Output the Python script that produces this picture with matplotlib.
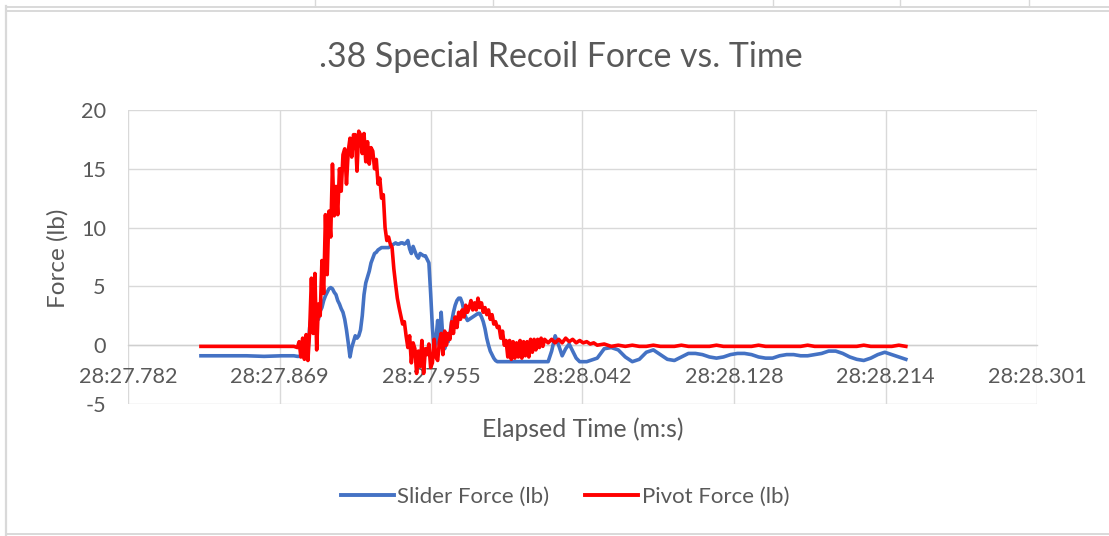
import matplotlib
matplotlib.use("Agg")
import matplotlib.pyplot as plt
from matplotlib.lines import Line2D
from matplotlib.ticker import FixedLocator, FuncFormatter

plt.rcParams['font.family'] = ['Lato', 'DejaVu Sans']

# ---------------- data (time in ms after 28:27.000) ----------------
time_pre = [824, 830, 840, 850, 860, 870, 875, 877, 879]
slider_pre = [-0.9, -0.9, -0.9, -0.9, -0.95, -0.9, -0.9, -0.9, -0.95]
pivot_pre = [-0.1, -0.1, -0.1, -0.1, -0.1, -0.1, -0.1, -0.1, -0.2]

time_event = [
    880, 881, 882, 883, 884, 885, 886, 887, 888, 889,
    890, 891, 892, 893, 894, 895, 896, 897, 898, 899,
    900, 901, 902, 903, 904, 905, 906, 907, 908, 909,
    910, 911, 912, 913, 914, 915, 916, 917, 918, 919,
    920, 921, 922, 923, 924, 925, 926, 927, 928, 929,
    930, 931, 932, 933, 934, 935, 936, 937, 938, 939,
    940, 941, 942, 943, 944, 945, 946, 947, 948, 949,
    950, 951, 952, 953, 954, 955, 956, 957, 958, 959,
    960, 961, 962, 963, 964, 965, 966, 967, 968, 969,
    970, 971, 972, 973, 974, 975, 976, 977, 978, 979,
    980, 981, 982, 983, 984, 985, 986, 987, 988, 989,
    990, 991, 992, 993, 994, 995, 996, 997, 998, 999,
    1000, 1001, 1002, 1003, 1004, 1005, 1006, 1007, 1008, 1009,
    1010, 1011, 1012, 1013, 1014, 1015, 1016, 1017, 1018, 1019,
    1020]
pivot_event = [
    0.3, -1.0, 0.6, -1.2, 0.9, -1.3, 1.2, 5.7, 1.0, 6.1,
    -0.4, 3.5, 2.5, 7.2, 4.4, 11.1, 6.0, 11.4, 9.2, 15.4,
    11.0, 13.5, 11.1, 15.0, 13.1, 16.2, 16.7, 13.7, 16.5, 17.6,
    16.0, 17.9, 17.9, 14.8, 18.2, 17.9, 16.3, 18.0, 15.6, 17.3,
    15.4, 16.8, 16.5, 15.0, 15.8, 13.7, 14.2, 12.5, 12.8, 10.0,
    8.9, 9.2, 8.6, 8.3, 6.5, 5.2, 4.0, 3.2, 2.5, 1.8,
    2.0, 0.8, -0.2, 0.8, -1.5, 0.2, -0.3, -2.4, -0.5, -1.8,
    0.4, -2.4, -0.3, -0.8, 0.1, -1.9, -1.5, 0.5, -1.0, -1.3,
    0.3, 1.0, -0.8, 1.2, 0.0, 1.0, 0.5, 2.0, 1.0, 2.4,
    1.5, 2.8, 2.2, 3.0, 2.4, 3.4, 2.8, 3.2, 3.8, 3.0,
    3.6, 3.0, 4.0, 3.2, 3.6, 2.8, 3.2, 2.6, 3.0, 2.2,
    2.6, 1.8, 2.0, 1.5, 1.6, 0.6, 1.2, 0.0, 0.4, -1.0,
    0.4, -1.2, 0.3, -1.1, 0.2, -1.0, 0.4, -1.1, 0.3, -0.9,
    0.3, -1.0, 0.5, -0.6, 0.5, -0.4, 0.5, -0.2, 0.6, -0.1,
    0.5]
slider_event = [
    -0.95, -0.95, -0.9, -0.9, -0.9, -0.5, 1.5, 2.6, 2.2, 2.0,
    2.3, 2.2, 2.9, 3.2, 3.8, 4.2, 4.5, 4.8, 4.9, 4.8,
    4.5, 4.3, 3.8, 3.5, 3.1, 2.8, 2.2, 1.3, 0.2, -1.0,
    -0.2, 0.3, 0.8, 0.6, 0.8, 1.3, 2.5, 4.3, 5.3, 5.8,
    6.3, 7.0, 7.4, 7.8, 7.9, 8.1, 8.2, 8.3, 8.3, 8.3,
    8.3, 8.3, 8.4, 8.5, 8.6, 8.7, 8.6, 8.6, 8.7, 8.7,
    8.6, 8.7, 8.9, 8.2, 7.8, 8.4, 8.0, 7.6, 7.4, 7.8,
    7.7, 7.6, 7.6, 7.3, 7.0, 4.4, 1.5, -0.5, 0.5, 2.1,
    0.0, 2.8, 0.5, -0.3, 0.5, 0.3, 1.0, 2.0, 2.8, 3.4,
    3.8, 4.0, 4.0, 3.6, 2.9, 2.4, 2.1, 2.2, 2.3, 2.4,
    2.5, 2.6, 2.7, 2.7, 2.4, 2.0, 1.4, 0.6, 0.0, -0.5,
    -0.8, -1.1, -1.3, -1.4, -1.4, -1.4, -1.4, -1.4, -1.4, -1.4,
    -1.4, -1.4, -1.4, -1.4, -1.4, -1.4, -1.4, -1.4, -1.4, -1.4,
    -1.4, -1.4, -1.4, -1.4, -1.4, -1.4, -1.4, -1.4, -1.4, -1.4,
    -1.4]

time_mid = [1022, 1024, 1026, 1028, 1030, 1032, 1034, 1036, 1038, 1040,
            1042, 1044, 1046, 1048, 1050]
pivot_mid = [0.2, 0.5, 0.2, 0.5, 0.2, 0.6, 0.3, 0.5, 0.2, 0.4,
             0.2, 0.3, 0.1, 0.2, 0.0]
slider_mid = [-1.4, -0.5, 0.8, 0.0, -0.9, -0.3, 0.1, -0.5, -1.1, -1.4,
              -1.4, -1.4, -1.3, -1.2, -1.1]

time_tail = [
    1054, 1058, 1062, 1066, 1070, 1074, 1078, 1082, 1086, 1090, 1094,
    1098, 1102, 1106, 1110, 1114, 1118, 1122, 1126, 1130, 1134, 1138,
    1142, 1146, 1150, 1154, 1158, 1162, 1166, 1170, 1174, 1178, 1182,
    1186, 1190, 1194, 1198, 1202, 1206, 1210, 1214, 1218, 1222, 1226]
pivot_tail = [
    0.1, -0.1, 0.0, -0.1, 0.0, -0.1, -0.1, 0.0, -0.1, -0.1, -0.1,
    0.0, -0.1, -0.1, -0.1, -0.1, 0.0, -0.1, -0.1, -0.1, -0.1, -0.1,
    0.0, -0.1, -0.1, -0.1, -0.1, -0.1, -0.1, 0.0, -0.1, -0.1, -0.1,
    -0.1, -0.1, -0.1, -0.1, 0.0, -0.1, -0.1, -0.1, -0.1, 0.0, -0.1]
slider_tail = [
    -0.3, -0.2, -0.4, -1.0, -1.4, -1.2, -0.6, -0.4, -0.8, -1.2, -1.3,
    -1.0, -0.7, -0.7, -0.8, -1.0, -1.1, -1.0, -0.8, -0.7, -0.7, -0.8,
    -1.0, -1.1, -1.1, -0.9, -0.8, -0.8, -0.9, -0.9, -0.8, -0.7, -0.5,
    -0.5, -0.7, -1.0, -1.2, -1.3, -1.1, -0.8, -0.6, -0.8, -1.0, -1.2]

time_ms = time_pre + time_event + time_mid + time_tail
slider_force = slider_pre + slider_event + slider_mid + slider_tail
pivot_force = pivot_pre + pivot_event + pivot_mid + pivot_tail

# axis ticks (ms after 28:27.000)
x_ticks = [782.4, 868.8, 955.2, 1041.6, 1128.0, 1214.4, 1300.8]
y_ticks = [-5, 0, 5, 10, 15, 20]

series_names = ["Slider Force (lb)", "Pivot Force (lb)"]
title_text = ".38 Special Recoil Force vs. Time"
x_title = "Elapsed Time (m:s)"
y_title = "Force (lb)"

# ---------------- figure ----------------
W, H = 1109, 536
fig = plt.figure(figsize=(W / 100, H / 100), dpi=100)
fig.patch.set_facecolor("white")

ax = fig.add_axes([128 / W, 1 - 404 / H, (1037 - 128) / W, (404 - 110) / H])
ax.set_facecolor("white")

text_col = "#595959"
grid_col = "#d9d9d9"

ax.plot(time_ms, slider_force, color="#4472C4", lw=2.6, solid_joinstyle="round",
        label=series_names[0], zorder=3)
ax.plot(time_ms, pivot_force, color="#FF0000", lw=2.6, solid_joinstyle="round",
        label=series_names[1], zorder=4)

ax.set_xlim(x_ticks[0], x_ticks[-1])
ax.set_ylim(-5, 20)
ax.xaxis.set_major_locator(FixedLocator(x_ticks))
ax.yaxis.set_major_locator(FixedLocator(y_ticks))


def fmt_time(v, pos=None):
    sec = 27 + v / 1000.0
    return "28:%06.3f" % sec


ax.xaxis.set_major_formatter(FuncFormatter(fmt_time))
ax.yaxis.set_major_formatter(FuncFormatter(lambda v, p: "%d" % v))

ax.grid(True, color=grid_col, lw=1.0, zorder=0)
ax.set_axisbelow(True)
for s in ["left", "right", "top"]:
    ax.spines[s].set_visible(False)
ax.spines["bottom"].set_position(("data", 0))
ax.spines["bottom"].set_color("#cfcfcf")
ax.spines["bottom"].set_linewidth(1.0)

ax.tick_params(axis="both", length=0, colors=text_col, labelsize=15.6)
ax.tick_params(axis="x", pad=16)
ax.tick_params(axis="y", pad=16)

fig.text(561 / W, 1 - 57 / H, title_text, ha="center", va="center",
         fontsize=24.4, color=text_col)
fig.text(582.5 / W, 1 - 429 / H, x_title, ha="center", va="center",
         fontsize=17.8, color=text_col)
fig.text(58 / W, 1 - 258 / H, y_title, ha="center", va="center",
         rotation=90, fontsize=17.5, color=text_col)

handles = [Line2D([0], [0], color="#4472C4", lw=2.8),
           Line2D([0], [0], color="#FF0000", lw=2.8)]
leg = fig.legend(handles, series_names, loc="center", ncol=2,
                 bbox_to_anchor=(565 / W, 1 - 497 / H), frameon=False,
                 fontsize=16, handlelength=2.4, handletextpad=0.15,
                 columnspacing=1.6)
for t in leg.get_texts():
    t.set_color(text_col)

# spreadsheet / chart frame lines
frame_col = "#d9d9d9"
fig.add_artist(Line2D([6 / W, 6 / W], [0, 1 - 6 / H], transform=fig.transFigure,
                      color=frame_col, lw=1.6))
fig.add_artist(Line2D([6 / W, 1], [1 - 7 / H, 1 - 7 / H], transform=fig.transFigure,
                      color=frame_col, lw=1.4))
fig.add_artist(Line2D([6 / W, 1], [1 - 11 / H, 1 - 11 / H], transform=fig.transFigure,
                      color=frame_col, lw=1.4))
fig.add_artist(Line2D([6 / W, 1], [1 - 534 / H, 1 - 534 / H], transform=fig.transFigure,
                      color=frame_col, lw=1.4))
for xp in [315, 493, 773, 900, 1029]:
    fig.add_artist(Line2D([xp / W, xp / W], [1 - 6 / H, 1], transform=fig.transFigure,
                          color=frame_col, lw=1.0))

fig.savefig("out.png", dpi=100, facecolor="white")
